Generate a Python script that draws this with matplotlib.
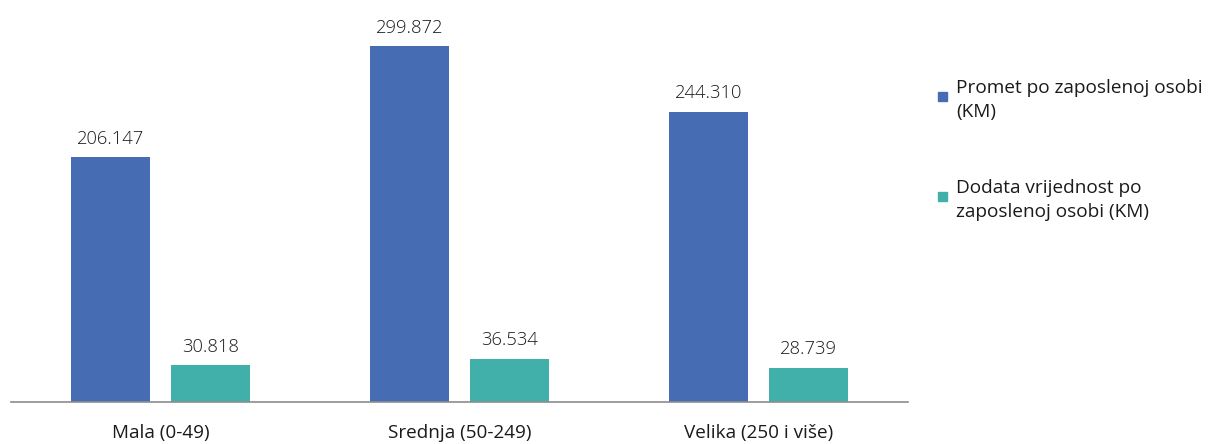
import matplotlib.pyplot as plt
import matplotlib.patches as mpatches
import numpy as np

plt.rcParams['font.family'] = ['Open Sans', 'DejaVu Sans']

# ===== Data =====
categories = ["Mala (0-49)", "Srednja (50-249)", "Velika (250 i više)"]
promet = [206.147, 299.872, 244.310]
dodata = [30.818, 36.534, 28.739]
series_labels = ["Promet po zaposlenoj osobi\n(KM)",
                 "Dodata vrijednost po\nzaposlenoj osobi (KM)"]
colors = ["#466DB4", "#41B0AA"]

fig = plt.figure(figsize=(12.09, 4.44), dpi=100)
ax = fig.add_axes([0.0091, 0.0946, 0.7418, 0.885])

x = np.arange(len(categories))
w = 0.265
off = 0.167
for vals, dx, c in [(promet, -off, colors[0]), (dodata, off, colors[1])]:
    bars = ax.bar(x + dx, vals, width=w, color=c, zorder=2)
    for b, v in zip(bars, vals):
        ax.text(b.get_x() + b.get_width() / 2, v + 8, f"{v:.3f}",
                ha="center", va="bottom", fontsize=13.2, color="#1a1a1a",
                fontweight="light")

ax.set_xlim(-0.5, 2.5)
ax.set_ylim(0, 331)
ax.set_xticks(x)
ax.set_xticklabels(categories, fontsize=13.6, color="#1a1a1a")
ax.tick_params(axis="x", length=0, pad=16)
ax.set_yticks([])
for s in ["top", "right", "left"]:
    ax.spines[s].set_visible(False)
ax.spines["bottom"].set_color("#8c8c8c")
ax.spines["bottom"].set_linewidth(1.2)

# ===== Legend (manual) =====
W, H = 1209, 444
for i, (lab, c) in enumerate(zip(series_labels, colors)):
    ytop = 79 + i * 100
    fig.patches.append(mpatches.Rectangle((938 / W, 1 - (ytop + 22) / H), 9 / W, 9 / H,
                                          transform=fig.transFigure, color=c))
    fig.text(956 / W, 1 - ytop / H, lab, ha="left", va="top", fontsize=13.7,
             color="#1a1a1a", linespacing=1.45)

plt.savefig("out.png", dpi=100)
